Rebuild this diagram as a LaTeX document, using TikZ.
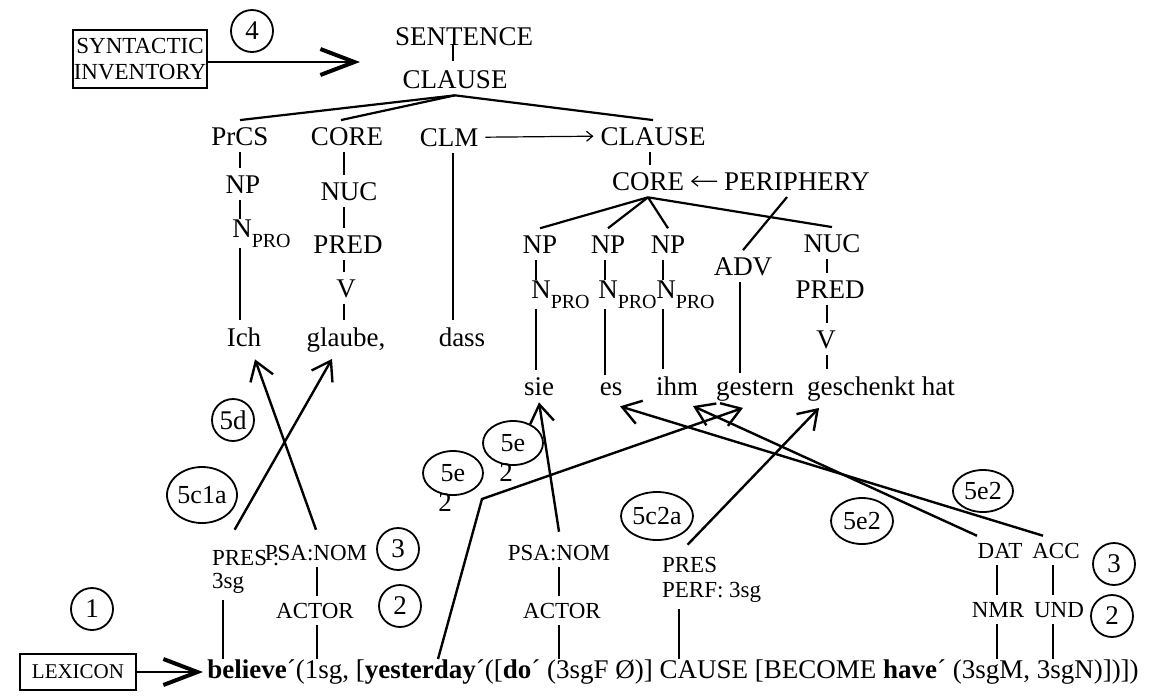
\documentclass[tikz,border=0pt]{standalone}
\usepackage{fontspec}
\setmainfont{Liberation Serif}
\usetikzlibrary{arrows.meta,shapes.geometric,positioning}
\newcommand{\labfont}{\fontsize{13.5}{15}\selectfont}
\newcommand{\smlfont}{\fontsize{11.5}{13}\selectfont}
\newcommand{\npro}{N\rlap{\raisebox{-5pt}{\fontsize{10}{10}\selectfont PRO}}}

\begin{document}
\begin{tikzpicture}[x=0.5pt,y=-0.5pt]
\useasboundingbox (0,0) rectangle (1151,697);
\tikzstyle{lab}=[font=\labfont,anchor=base]
\tikzstyle{sml}=[font=\smlfont,anchor=base]
\tikzstyle{edge}=[line width=1.1pt]
\tikzstyle{fine}=[line width=0.6pt,-{Straight Barb[length=3pt,width=5pt]}]
\tikzstyle{arrow}=[line width=1.2pt,-{Straight Barb[length=9pt,width=12pt]}]
\tikzstyle{bigarrow}=[line width=1pt,-{Straight Barb[length=17pt,width=13pt,line width=2pt]}]
\tikzstyle{num}=[circle,draw,line width=0.9pt,minimum size=21pt,inner sep=0pt,font=\labfont]
\tikzstyle{oval}=[ellipse,draw,line width=0.9pt,inner sep=0pt,font=\fontsize{13}{14}\selectfont]
% columns of the tree lines
\coordinate (colA) at (240,0);
\coordinate (colB) at (344,0);
\coordinate (colC) at (453,0);
\coordinate (colD) at (650,0);
\coordinate (colE) at (317,0);
\coordinate (colF) at (223,0);
\coordinate (colG) at (559,0);
\coordinate (colH) at (679,0);
\coordinate (colI) at (997,0);
\coordinate (colJ) at (1053,0);

% syntactic inventory
\node[draw,line width=0.8pt,align=center,font=\smlfont,inner sep=0.5pt,minimum width=66pt,minimum height=29pt] (SI) at (140,59) {SYNTACTIC\\INVENTORY};
\node[num] (C4) at (252,31) {4};
\coordinate (SIend) at (360,62);
\draw[bigarrow] (SI.east |- SIend) -- (SIend);

% main clause
\node[lab] (SENT) at (464,45) {SENTENCE};
\node[lab] (CL1) at (455,88) {CLAUSE};
\draw[edge] (CL1.north) ++(-2,-2) -- ++(0,-17);
\node[lab] (PrCS) at (240,145) {PrCS};
\node[lab] (CO1) at (347,145) {CORE};
\node[lab] (CLM) at (449,146) {CLM};
\node[lab] (CL2) at (653,145) {CLAUSE};
\draw[edge] (CL1.south) -- (PrCS.north);
\draw[edge] (CL1.south) -- ([xshift=-3pt]CO1.north);
\draw[edge] (CL1.south) -- (CL2.north);
\draw[fine] (CLM.east) -- (CL2.west);

\node[lab] (NP0) at (243,193) {NP};
\node[lab] (NUC1) at (349,200) {NUC};
\node[lab,inner sep=0pt] (N0) at (242,237) {\npro};
\node[lab] (PRED1) at (348,253) {PRED};
\node[lab] (V1) at (346,297) {V};
\node[lab] (Ich) at (244,346) {Ich};
\node[lab] (glaube) at (346,346) {glaube,};
\node[lab] (dass) at (462,346) {dass};
\foreach \a/\b in {PrCS/NP0,NP0/N0,N0/Ich}
  \draw[edge] (\a.south -| colA) -- (\b.north -| colA);
\foreach \a/\b in {CO1/NUC1,NUC1/PRED1,PRED1/V1,V1/glaube}
  \draw[edge] (\a.south -| colB) -- (\b.north -| colB);
\draw[edge] (CLM.south -| colC) -- (dass.north -| colC);

% embedded clause
\node[lab] (CO2) at (648,190) {CORE};
\node[lab] (PER) at (797,190) {PERIPHERY};
\draw[edge] (CL2.south -| colD) -- (CO2.north -| colD);
\draw[fine] (PER.west) -- (CO2.east);
\node[lab] (NP1) at (540,253) {NP};
\node[lab] (NP2) at (608,253) {NP};
\node[lab] (NP3) at (668,253) {NP};
\node[lab] (ADV) at (743,275) {ADV};
\node[lab] (NUC2) at (832,252) {NUC};
\foreach \n in {NP1,NP2,NP3,NUC2}
  \draw[edge] (CO2.south) -- (\n.north);
\draw[edge] ([xshift=-5pt]PER.south) -- (ADV.north);
\node[lab,inner sep=0pt] (N1) at (541,298) {\npro};
\node[lab,inner sep=0pt] (N2) at (608,298) {\npro};
\node[lab,inner sep=0pt] (N3) at (666,298) {\npro};
\node[lab] (PRED2) at (830,298) {PRED};
\node[lab] (V2) at (826,348) {V};
\node[lab] (sie) at (539,395) {sie};
\node[lab] (es) at (611,395) {es};
\node[lab] (ihm) at (677,395) {ihm};
\node[lab] (gestern) at (755,395) {gestern};
\node[lab] (gesch) at (881,395) {geschenkt hat};
\foreach \a/\b/\c in {NP1/N1/536,N1/sie/536,NP2/N2/605,N2/es/605,NP3/N3/663,N3/ihm/663,ADV/gestern/740,NUC2/PRED2/827,PRED2/V2/827,V2/gesch/827}
  \draw[edge] (\a.south -| \c,0) -- (\b.north -| \c,0);

% lexicon side
\node[font=\labfont,anchor=base west,inner sep=0pt] (F) at (207,678) {\textbf{believe}´(1sg, [\textbf{yesterday}´([\textbf{do}´ (3sgF Ø)] CAUSE [BECOME \textbf{have}´ (3sgM, 3sgN)])])};
\node[draw,line width=0.8pt,font=\fontsize{10.5}{12}\selectfont,minimum width=58pt,minimum height=18pt,inner sep=1pt] (LEX) at (78,672) {LEXICON};
\draw[bigarrow] (LEX.east) -- ([xshift=-2pt]F.west |- LEX.east);
\node[num] (C1) at (92,609) {1};

\node[sml,anchor=base west] (PRES1) at (205,565) {PRES :};
\node[sml,anchor=base west] (sg1) at (205,588) {3sg};
\node[sml] (PSA1) at (316,560) {PSA:NOM};
\node[sml] (ACT1) at (315,618) {ACTOR};
\node[num] (C3a) at (398,549) {3};
\node[num] (C2a) at (400,606) {2};
\node[sml] (PSA2) at (559,560) {PSA:NOM};
\node[sml] (ACT2) at (562,618) {ACTOR};
\node[sml,anchor=base west] (PRES2) at (655,572) {PRES};
\node[sml,anchor=base west] (PERF) at (655,597) {PERF:\ 3sg};
\node[sml] (DAT) at (1000,558) {DAT};
\node[sml] (ACC) at (1056,558) {ACC};
\node[sml] (NMR) at (998,617) {NMR};
\node[sml] (UND) at (1059,617) {UND};
\node[num] (C3b) at (1114,564) {3};
\node[num] (C2b) at (1112,616) {2};
\draw[edge] (sg1.south -| colF) -- (F.north -| colF);
\draw[edge] (PSA1.south -| colE) -- (ACT1.north -| colE);
\draw[edge] (ACT1.south -| colE) -- (F.north -| colE);
\draw[edge] (PSA2.south -| colG) -- (ACT2.north -| colG);
\draw[edge] (ACT2.south -| colG) -- (F.north -| colG);
\draw[edge] (PERF.south -| colH) -- (F.north -| colH);
\draw[edge] (DAT.south -| colI) -- (NMR.north -| colI);
\draw[edge] (NMR.south -| colI) -- (F.north -| colI);
\draw[edge] (ACC.south -| colJ) -- (UND.north -| colJ);
\draw[edge] (UND.south -| colJ) -- (F.north -| colJ);

% linking steps
\node[num] (C5d) at (233,420) {5d};
\node[oval,minimum width=35pt,minimum height=28pt] (E5c1a) at (202,495) {5c1a};
\node[oval,minimum width=30pt,minimum height=22pt] (E5ea) at (453,473) {5e};
\node[font=\labfont] (E5ea2) at (445,503) {2};
\node[oval,minimum width=30pt,minimum height=22pt] (E5eb) at (513,443) {5e};
\node[font=\labfont] (E5eb2) at (506,473) {2};
\node[oval,minimum width=36pt,minimum height=24pt] (E5c2a) at (657,516) {5c2a};
\node[oval,minimum width=31pt,minimum height=23pt] (E5e2a) at (862,521) {5e2};
\node[oval,minimum width=30pt,minimum height=21pt] (E5e2b) at (983,491) {5e2};

\draw[arrow] ([yshift=4pt]PSA1.north) -- ([xshift=5.5pt,yshift=-3pt]Ich.south);
\draw[arrow] ([xshift=-5.5pt,yshift=6.5pt]PRES1.north) -- ([xshift=-7pt]glaube.south);
\draw[arrow] ([yshift=3pt]PSA2.north) -- (sie.south);
\coordinate (ydB) at (438,659);
\coordinate (ydK) at (482,499);
\draw[arrow] (ydB) -- (ydK) -- ([xshift=-6pt]gestern.south);
\draw[arrow] ([xshift=-1pt,yshift=2.5pt]PRES2.north) -- ([xshift=9.5pt]gesch.south west);
\draw[arrow] ([xshift=-11.5pt]DAT.north) -- ([xshift=8pt,yshift=-2pt]ihm.south);
\draw[arrow] ([xshift=-6.5pt]ACC.north) -- ([xshift=4.5pt,yshift=-2pt]es.south);
\end{tikzpicture}
\end{document}
